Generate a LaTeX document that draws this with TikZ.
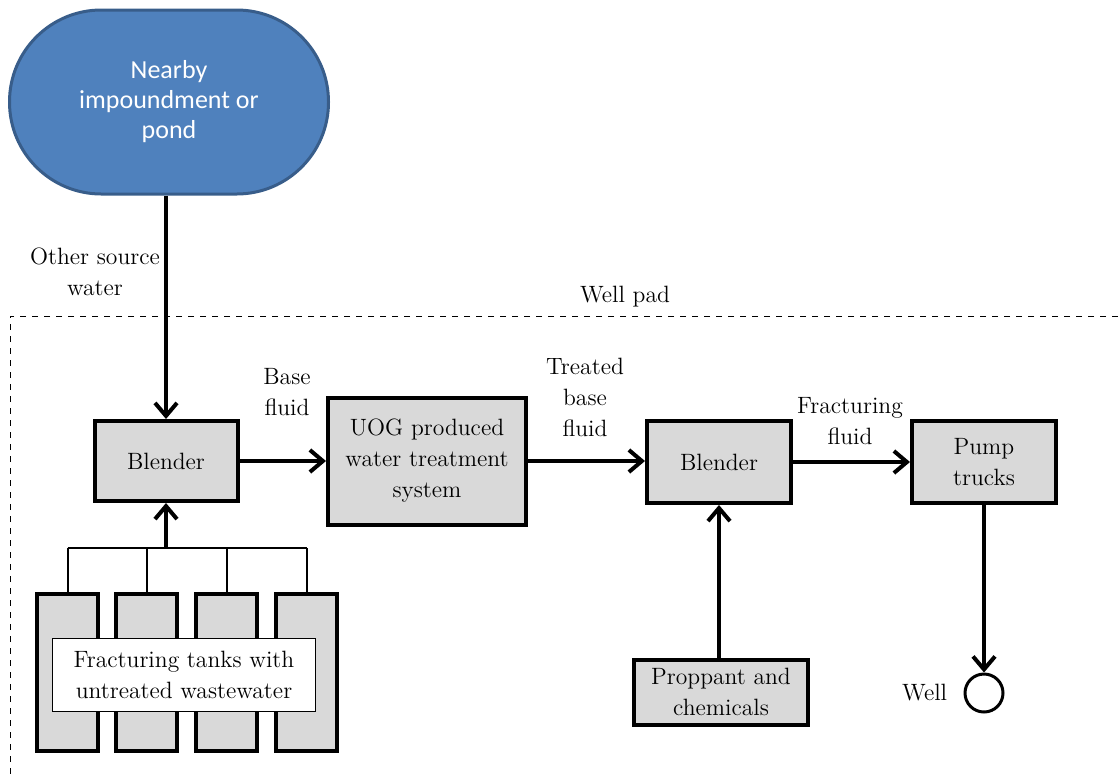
\documentclass[tikz,border=0pt]{standalone}
\usepackage{fontspec}
\newfontfamily\pondfont{Carlito}
\usepackage{tikz}
\usetikzlibrary{arrows.meta, positioning}
\definecolor{azulpond}{HTML}{4F81BD}
\definecolor{bordepond}{HTML}{385D8A}
\definecolor{grisbox}{HTML}{D9D9D9}
\tikzstyle{proceso} = [draw=black, fill=grisbox, line width=2pt, rectangle, inner sep=0pt, align=center, font=\fontsize{11.8}{15.5}\selectfont]
\tikzstyle{tanque} = [draw=black, fill=grisbox, line width=2pt, rectangle, inner sep=0pt, minimum width=30.5pt, minimum height=78.5pt]
\tikzstyle{etiqueta} = [align=center, inner sep=0pt, font=\fontsize{11.8}{15.5}\selectfont]
\tikzstyle{flujo} = [line width=2pt, -{Straight Barb[length=6.5pt,width=11pt]}]
\begin{document}
\begin{tikzpicture}[x=0.5pt, y=-0.5pt]
	\useasboundingbox (0,0) rectangle (1119,778);
	% well pad
	\draw[dashed, line width=0.5pt] (1130,316) -- (10,316) -- (10,790);
	\node[etiqueta] (pad) at (625,297) {Well pad};
	% pond
	\node[draw=bordepond, fill=azulpond, line width=1.5pt, rounded corners=45.9pt, minimum width=159.5pt, minimum height=92pt, text=white, align=center, font=\pondfont\fontsize{13}{15}\selectfont] (pond) at (169,102) {Nearby\\impoundment or\\pond};
	% process boxes
	\node[proceso, minimum width=71.5pt, minimum height=40pt] (b1) at (166,461) {Blender};
	\node[proceso, minimum width=99pt, minimum height=63.5pt] (uog) at (427,461) {UOG produced\\water treatment\\system};
	\node[proceso, minimum width=72pt, minimum height=41pt] (b2) at (719,462) {Blender};
	\node[proceso, minimum width=72pt, minimum height=41pt] (pump) at (984,462) {Pump\\trucks};
	\node[proceso, minimum width=87pt, minimum height=32.5pt] (prop) at (721,692) {Proppant and\\chemicals};
	\node[draw, line width=1.5pt, circle, minimum size=19pt, inner sep=0pt] (well) at (984,693) {};
	\node[etiqueta, left=8pt of well] (welltxt) {Well};
	% tanks
	\foreach \i/\x in {1/67.5, 2/146.5, 3/226.5, 4/306.5}
		\node[tanque] (t\i) at (\x,672.5) {};
	\node[draw, fill=white, line width=0.5pt, etiqueta, minimum width=131.5pt, minimum height=36.5pt] (tanktxt) at (184,675) {Fracturing tanks with\\untreated wastewater};
	\coordinate (bus) at (166,548);
	\draw[line width=1pt] (t1.north |- bus) -- (t4.north |- bus);
	\foreach \i in {1,...,4}
		\draw[line width=1pt] (t\i.north) -- (t\i.north |- bus);
	% flows
	\draw[flujo] (b1.north |- pond.south) -- (b1.north);
	\draw[flujo] (bus) -- (b1.south);
	\draw[flujo] (b1.east) -- (uog.west |- b1.east);
	\draw[flujo] (uog.east) -- (b2.west |- uog.east);
	\draw[flujo] (b2.east) -- (pump.west |- b2.east);
	\draw[flujo] (prop.north -| b2.south) -- (b2.south);
	\draw[flujo] (pump.south) -- (well.north);
	% labels
	\node[etiqueta] (lblother) at (95,272) {Other source\\water};
	\node[etiqueta] (lblbase) at (287,392) {Base\\fluid};
	\node[etiqueta] (lbltreat) at (585,397) {Treated\\base\\fluid};
	\node[etiqueta] (lblfrac) at (850,421) {Fracturing\\fluid};
\end{tikzpicture}
\end{document}
